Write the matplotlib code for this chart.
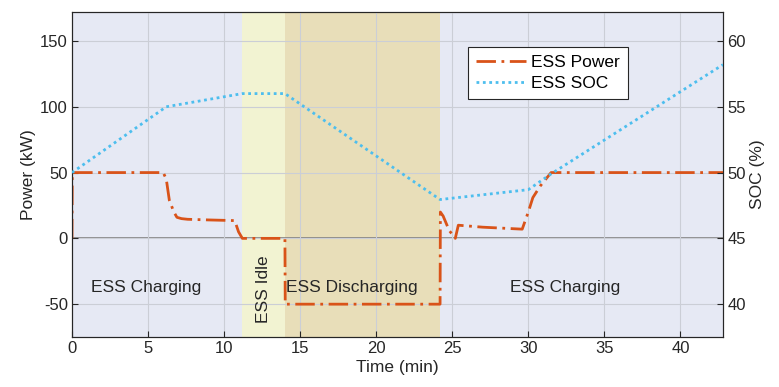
import matplotlib.pyplot as plt

plt.rcParams['font.family'] = ['Liberation Sans', 'DejaVu Sans']
plt.rcParams['font.size'] = 12
plt.rcParams['axes.unicode_minus'] = False

# ESS power (kW) over time (min)
power_t = [0, 0.02, 6.0, 6.2, 6.4, 6.7, 6.9, 7.2, 7.6, 9.0, 10.7, 10.95, 11.2,
           14.0, 14.02, 24.2, 24.22, 24.4, 24.8, 25.2, 25.4, 27.0, 29.6,
           30.0, 30.3, 30.8, 31.5, 42.8]
power_kw = [0, 50, 50, 45, 29, 20, 16, 15, 14.5, 14, 13.5, 5, 0,
            0, -50, -50, 20, 17, 6, 0, 10, 8.5, 7,
            20, 31, 40, 50, 50]

# ESS state of charge (%)
soc_t = [0, 6.2, 11.2, 14.0, 24.2, 30.0, 31.5, 42.8]
soc_pct = [50, 55, 56, 56, 47.95, 48.7, 49.9, 58.2]

# operating phases
phase_edges = [0, 11.2, 14.0, 24.2, 42.8]
phase_colors = ['#E6E9F4', '#F2F3D2', '#E8DEB9', '#E6E9F4']
phase_labels = ['ESS Charging', 'ESS Idle', 'ESS Discharging', 'ESS Charging']

fig = plt.figure(figsize=(7.79, 3.87), dpi=100)
ax = fig.add_axes([0.0924, 0.129, 0.8357, 0.84])
ax2 = ax.twinx()

for i in range(len(phase_colors)):
    ax.axvspan(phase_edges[i], phase_edges[i + 1], color=phase_colors[i], zorder=0, lw=0)

ax.axhline(0, color='#808080', lw=1.2, zorder=1)

l1, = ax.plot(power_t, power_kw, color='#D95319', lw=2, ls=(0, (7, 2, 1, 2)),
              label='ESS Power', zorder=3)
l2, = ax2.plot(soc_t, soc_pct, color='#4DBEEE', lw=2, ls=(0, (1, 1.3)),
               label='ESS SOC', zorder=3)

ax.set_xlim(0, 42.8)
ax.set_ylim(-75, 172)
ax2.set_ylim(37.5, 62.2)
ax.set_xticks(range(0, 45, 5))
ax.set_yticks([-50, 0, 50, 100, 150])
ax2.set_yticks([40, 45, 50, 55, 60])

ax.grid(True, color='#CBCED6', lw=0.8)
ax.set_axisbelow(False)
for a in (ax, ax2):
    a.tick_params(direction='in', length=4, colors='#262626', labelsize=12, pad=3)
    for s in a.spines.values():
        s.set_color('#262626')
        s.set_linewidth(0.8)

ax.set_xlabel('Time (min)', fontsize=12.5, color='#262626', labelpad=3)
ax.set_ylabel('Power (kW)', fontsize=12.5, color='#262626', labelpad=3)
ax2.set_ylabel('SOC (%)', fontsize=12.5, color='#262626', labelpad=3)

ax.text(4.85, -37, phase_labels[0], ha='center', va='center', fontsize=12.5, color='#262626')
ax.text(12.6, -38.5, phase_labels[1], ha='center', va='center', fontsize=12.5,
        rotation=90, color='#262626')
ax.text(18.4, -37, phase_labels[2], ha='center', va='center', fontsize=12.5, color='#262626')
ax.text(32.4, -37, phase_labels[3], ha='center', va='center', fontsize=12.5, color='#262626')

leg = ax2.legend([l1, l2], ['ESS Power', 'ESS SOC'], loc='upper left',
                 bbox_to_anchor=(0.608, 0.892), fontsize=12.5, frameon=True,
                 fancybox=False, edgecolor='#262626', framealpha=1,
                 handlelength=2.9, handletextpad=0.3, borderpad=0.45, labelspacing=0.35,
                 borderaxespad=0)
leg.get_frame().set_linewidth(0.8)

fig.savefig('out.png', dpi=100)
